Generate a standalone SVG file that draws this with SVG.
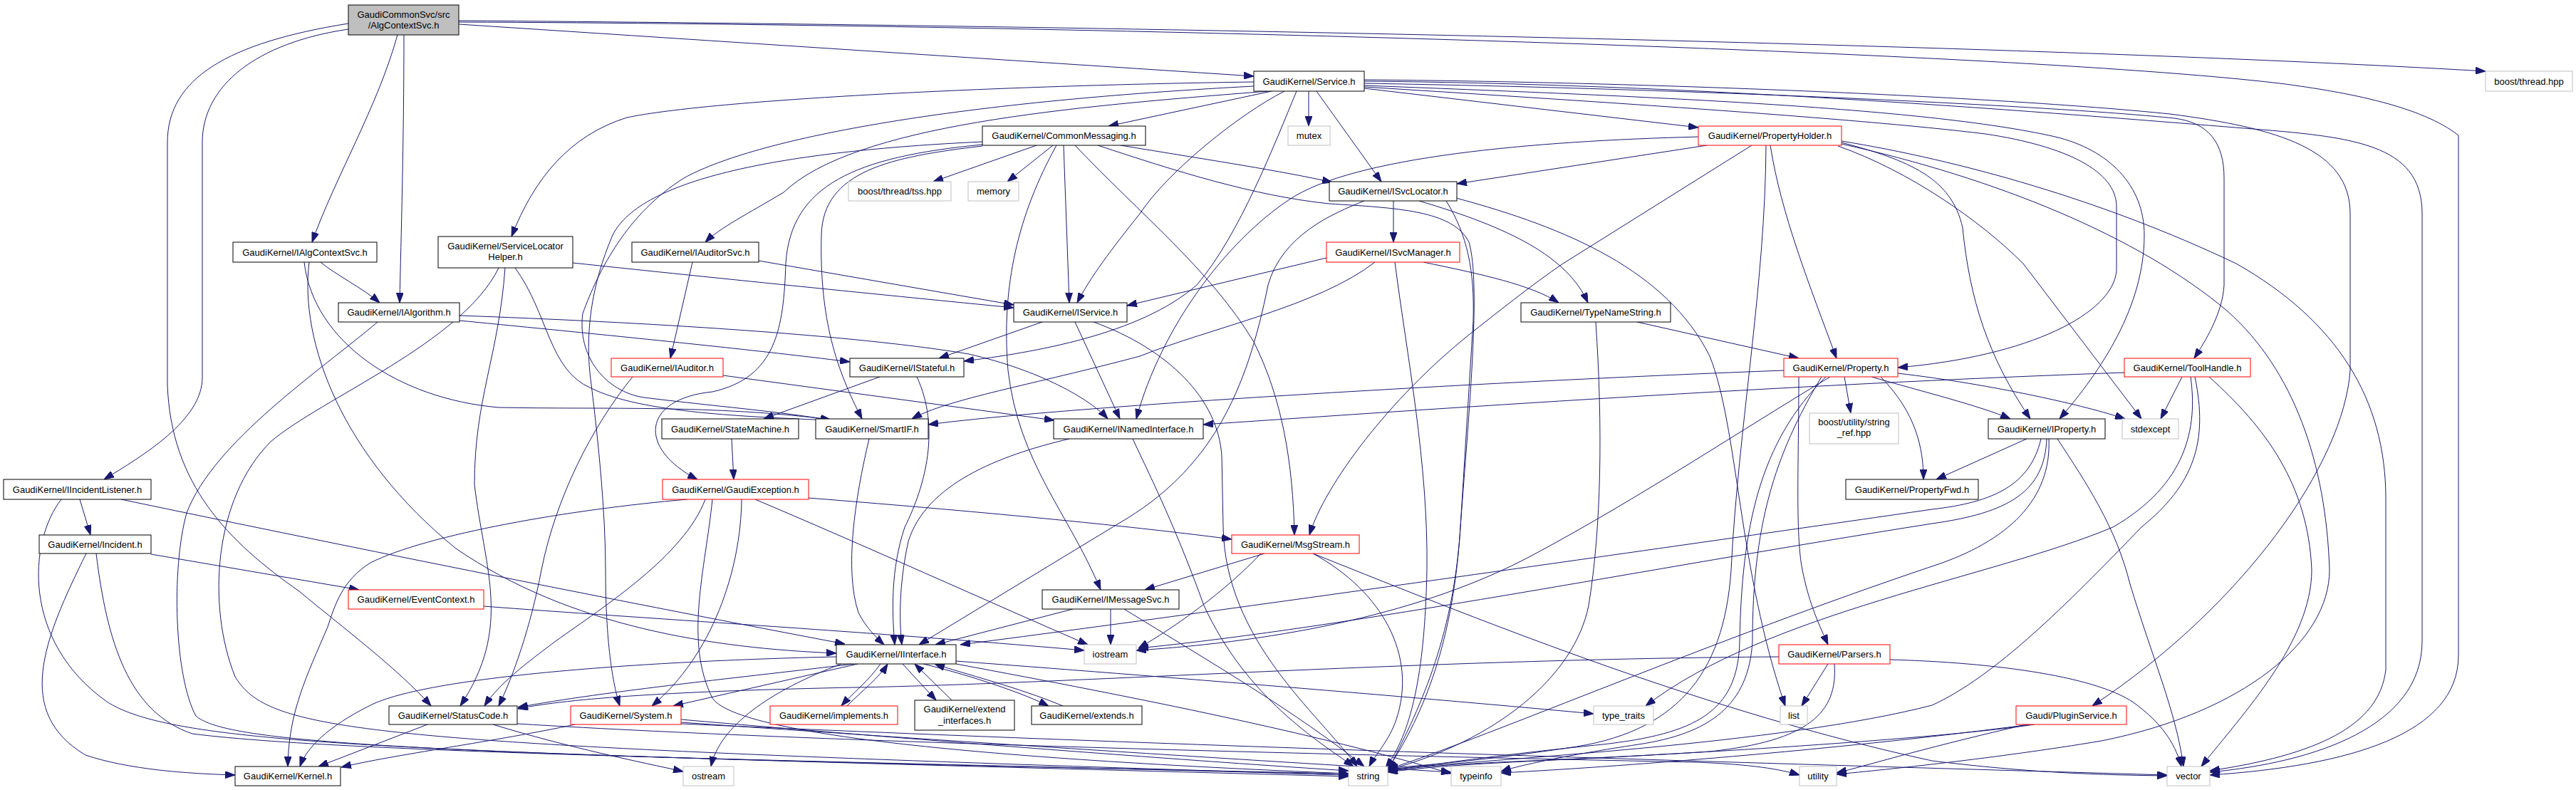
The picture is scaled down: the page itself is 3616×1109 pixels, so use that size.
<svg xmlns="http://www.w3.org/2000/svg" width="3616" height="1109" viewBox="0 0 3616 1109">
<style>
.node rect{fill:#ffffff;stroke:#000000;stroke-width:1}
.node.red rect{stroke:#ff0000}
.node.sys rect{stroke:#bfbfbf}
.node.root rect{fill:#bfbfbf}
.node text{font-family:"Liberation Sans",Arial,Helvetica,sans-serif;font-size:13px;fill:#000000;text-anchor:middle}
.edges path{fill:none;stroke:#191970;stroke-width:1;marker-end:url(#arr)}
</style>
<defs>
<marker id="arr" viewBox="0 0 14 10" refX="14" refY="5" markerWidth="14" markerHeight="10" markerUnits="userSpaceOnUse" orient="auto"><path d="M0,0 L14,5 L0,10 z" fill="#191970" stroke="#191970" stroke-width="1"/></marker>
</defs>
<rect x="0" y="0" width="3616" height="1109" fill="#ffffff"/>
<g class="edges">
<path d="M558,49 C530,150 470,250 438,340"/>
<path d="M567,49 C567,200 563,330 561,425"/>
<path d="M489,41 C360,60 284,120 284,200 L284,530 C284,590 200,640 146,673"/>
<path d="M489,33 C320,60 235,110 235,200 L235,540 C240,680 320,760 420,830 C480,880 560,940 605,991"/>
<path d="M644,34 L1760,107"/>
<path d="M644,29 C1500,35 2800,60 3489,100"/>
<path d="M644,31 C1500,34 2800,70 3200,117 C3300,130 3400,150 3451,190 L3451,920 C3451,1030 3300,1075 3102,1088"/>
<path d="M450,368 C470,385 510,405 533,425"/>
<path d="M427,368 C440,480 560,560 700,572 C850,575 1000,568 1166,589"/>
<path d="M434,368 C420,480 480,640 640,770 C800,880 1000,910 1174,917"/>
<path d="M645,443 C900,452 1200,470 1360,497 C1460,520 1530,560 1555,588"/>
<path d="M645,450 C850,470 1050,490 1193,508"/>
<path d="M530,452 C450,520 300,620 262,720 C240,800 245,950 275,1005 C320,1045 600,1060 1893,1086"/>
<path d="M112,701 L127,751"/>
<path d="M170,701 C500,770 900,850 1186,904"/>
<path d="M86,701 C40,760 30,900 150,985 C250,1050 600,1055 1893,1090"/>
<path d="M212,778 L504,828"/>
<path d="M121,777 C60,900 20,1000 120,1060 C180,1080 260,1086 330,1088"/>
<path d="M135,777 C150,900 180,1000 270,1030 C500,1060 1300,1070 1893,1088"/>
<path d="M679,851 C900,868 1200,885 1522,913"/>
<path d="M1760,115 C1400,120 1000,140 880,165 C800,190 750,250 718,332"/>
<path d="M1780,128 C1500,150 1200,175 1100,270 C1050,300 1010,320 990,340"/>
<path d="M1785,128 L1556,177"/>
<path d="M1837,128 L1837,177"/>
<path d="M1848,128 L1939,255"/>
<path d="M1915,124 L2384,179"/>
<path d="M1803,128 C1740,160 1640,240 1600,300 C1560,350 1530,390 1512,425"/>
<path d="M1820,128 C1790,200 1740,330 1680,400 C1600,470 1450,495 1353,507"/>
<path d="M1760,121 C1300,145 1050,200 960,250 C880,300 840,380 818,440 C810,500 850,550 904,558 C1000,570 1100,578 1166,590"/>
<path d="M1915,122 C2200,140 2600,165 2787,188 C2900,205 2971,240 2971,290 L2971,380 C2966,440 2850,500 2664,516"/>
<path d="M1915,120 C2300,135 2700,150 2885,192 C2960,210 3010,260 3010,330 C3010,430 2950,520 2891,588"/>
<path d="M1915,117 C2400,125 2900,150 3052,166 C3100,172 3122,200 3122,250 L3122,400 C3120,440 3095,480 3080,503"/>
<path d="M1915,112 C2300,115 2800,135 3046,160 C3200,180 3299,210 3299,300 L3299,520 C3290,650 3150,850 2937,991"/>
<path d="M1915,114 C2400,118 2900,160 3150,180 C3300,192 3400,200 3400,300 L3400,900 C3400,1020 3250,1070 3102,1084"/>
<path d="M804,369 C1000,390 1300,420 1423,432"/>
<path d="M723,376 C770,440 770,520 830,545 C900,580 1050,585 1166,590"/>
<path d="M709,376 C700,500 666,560 666,680 C680,800 720,880 646,991"/>
<path d="M700,376 C650,480 450,560 380,620 C300,700 290,850 330,950 C380,1030 500,1045 1893,1088"/>
<path d="M972,368 L941,503"/>
<path d="M1065,366 L1423,428"/>
<path d="M1015,527 L1480,590"/>
<path d="M888,529 C830,600 780,700 760,800 C745,880 720,950 700,991"/>
<path d="M1455,204 L1310,255"/>
<path d="M1478,204 L1414,255"/>
<path d="M1493,204 L1501,425"/>
<path d="M1573,204 C1700,225 1800,240 1870,256"/>
<path d="M1509,204 C1600,300 1700,380 1760,480 C1800,560 1815,650 1817,751"/>
<path d="M1483,204 C1430,300 1405,400 1415,520 C1430,650 1500,720 1545,828"/>
<path d="M1379,203 C1200,220 1110,260 1103,370 C1100,460 1090,530 1000,550 C900,560 895,630 979,673"/>
<path d="M1379,205 C1250,220 1155,240 1153,330 C1150,450 1175,520 1210,588"/>
<path d="M1379,199 C1100,212 900,250 860,330 C830,400 820,470 830,540 C840,620 850,720 850,800 C850,900 860,960 870,991"/>
<path d="M1541,204 C1650,240 1760,275 1866,286 C1960,292 2040,295 2062,340 C2080,400 2060,600 2050,740 C2040,900 2000,1000 1948,1080"/>
<path d="M1956,282 L1956,340"/>
<path d="M1992,282 C2120,320 2200,360 2229,425"/>
<path d="M2044,278 C2200,320 2340,380 2400,500 C2440,600 2440,800 2506,991"/>
<path d="M2030,282 C2060,330 2070,380 2068,450 L2050,740 C2040,900 1990,1000 1948,1082"/>
<path d="M1915,282 C1870,300 1800,330 1780,400 C1750,550 1700,660 1570,735 L1290,905"/>
<path d="M1862,362 L1582,429"/>
<path d="M1998,368 C2080,385 2150,400 2188,425"/>
<path d="M1930,368 C1850,430 1700,460 1600,500 C1450,540 1330,560 1280,588"/>
<path d="M1958,368 C1975,500 2005,650 2003,800 C2000,950 1980,1030 1945,1078"/>
<path d="M1463,452 L1318,503"/>
<path d="M1509,452 L1572,588"/>
<path d="M1535,452 C1640,490 1710,560 1715,640 L1717,740 C1720,900 1850,1000 1905,1076"/>
<path d="M1235,529 L1072,588"/>
<path d="M1287,529 C1320,600 1300,680 1270,740 C1250,800 1252,860 1256,905"/>
<path d="M1027,616 L1030,673"/>
<path d="M1220,616 C1200,700 1185,800 1205,860 C1215,880 1230,895 1241,905"/>
<path d="M1501,616 C1400,640 1300,680 1275,760 C1262,820 1262,870 1266,905"/>
<path d="M1590,616 C1620,680 1650,740 1690,850 C1750,980 1850,1040 1900,1076"/>
<path d="M1135,699 C1400,720 1600,740 1729,757"/>
<path d="M1060,701 C1200,760 1400,850 1527,905"/>
<path d="M990,701 C960,780 850,850 780,900 C740,930 700,960 680,991"/>
<path d="M1041,701 C1040,800 1000,920 915,991"/>
<path d="M965,701 C800,715 600,750 520,790 C480,815 470,850 460,880 C430,950 405,1000 404,1076"/>
<path d="M1000,701 C990,800 960,900 1000,980 C1040,1040 1500,1070 1893,1086"/>
<path d="M1506,855 L1313,905"/>
<path d="M1559,855 L1559,905"/>
<path d="M1578,855 C1700,930 1820,1000 1915,1076"/>
<path d="M1775,777 L1607,828"/>
<path d="M1843,777 C1940,830 1990,920 1960,1010 C1950,1040 1930,1060 1922,1076"/>
<path d="M1770,777 C1720,830 1650,880 1598,910"/>
<path d="M1843,777 C2100,880 2400,1000 2712,1068 C2850,1085 2950,1088 3042,1089"/>
<path d="M1198,932 C1050,950 850,970 727,993"/>
<path d="M1174,922 C900,928 600,950 520,990 C460,1020 430,1050 421,1076"/>
<path d="M1204,932 L945,991"/>
<path d="M1181,932 C1080,970 1010,1020 998,1076"/>
<path d="M1342,928 C1700,955 2000,980 2237,1002"/>
<path d="M1342,932 C1600,980 1850,1030 2037,1086"/>
<path d="M1236,932 C1220,955 1195,975 1181,991"/>
<path d="M1189,991 C1210,970 1235,950 1246,932"/>
<path d="M1267,932 L1314,983"/>
<path d="M1336,983 L1284,932"/>
<path d="M1296,932 C1370,950 1440,975 1472,991"/>
<path d="M1492,991 C1430,965 1350,945 1312,932"/>
<path d="M600,1017 L447,1076"/>
<path d="M692,1017 C800,1050 900,1070 959,1083"/>
<path d="M726,1016 C1200,1045 2000,1062 2380,1070 C2460,1073 2500,1080 2526,1088"/>
<path d="M807,1017 C700,1040 550,1060 479,1077"/>
<path d="M956,1010 C1300,1040 1700,1070 1893,1082"/>
<path d="M956,1014 C1400,1045 1800,1070 2037,1084"/>
<path d="M956,1016 C1700,1050 2600,1075 3042,1088"/>
<path d="M2589,529 L2598,580"/>
<path d="M2640,529 C2690,580 2700,630 2700,673"/>
<path d="M2627,529 C2700,550 2780,570 2822,588"/>
<path d="M2664,524 C2800,540 2930,570 2983,588"/>
<path d="M2525,529 C2525,650 2520,750 2530,800 C2540,850 2555,880 2566,905"/>
<path d="M2504,520 C2100,535 1500,570 1303,596"/>
<path d="M2569,529 C2450,600 2300,700 2150,780 C2000,860 1800,900 1595,913"/>
<path d="M2563,529 C2470,620 2445,740 2442,900 C2440,1000 2380,1030 2250,1045 C2100,1060 2000,1075 1948,1082"/>
<path d="M2557,529 C2490,640 2460,740 2460,900 C2455,990 2400,1030 2300,1045 C2200,1060 2130,1075 2107,1083"/>
<path d="M2566,932 L2529,991"/>
<path d="M2653,926 C2800,930 2950,950 3000,990 C3040,1020 3055,1050 3062,1076"/>
<path d="M2497,922 C2000,925 1500,960 1200,965 C950,970 800,980 727,995"/>
<path d="M2575,932 C2580,1000 2540,1040 2400,1055 C2200,1068 2050,1070 1948,1084"/>
<path d="M3063,529 L3033,588"/>
<path d="M2982,523 C2500,540 2000,575 1689,596"/>
<path d="M3075,529 C3085,600 3070,680 2966,740 C2800,810 2480,860 2310,991"/>
<path d="M3081,529 C3100,620 3080,680 3006,740 C2900,850 2800,950 2712,990 C2500,1045 2100,1065 1948,1080"/>
<path d="M3101,529 C3180,600 3240,680 3245,800 C3245,900 3150,1000 3090,1076"/>
<path d="M2396,204 L2045,258"/>
<path d="M2485,204 C2500,300 2540,400 2578,503"/>
<path d="M2585,200 C2680,225 2740,250 2755,320 C2765,420 2790,500 2850,588"/>
<path d="M2580,205 C2680,240 2780,310 2840,370 L3006,588"/>
<path d="M2585,198 C2750,225 2950,280 3139,370 C3280,450 3349,560 3349,700 L3349,940 C3340,1020 3250,1060 3102,1082"/>
<path d="M2585,202 C2800,250 3000,330 3127,437 C3220,520 3265,650 3270,800 C3270,900 3150,1000 2950,1040 C2800,1065 2650,1080 2578,1087"/>
<path d="M2479,204 C2478,400 2440,600 2430,800 C2420,950 2350,1030 2200,1050 C2100,1065 2000,1075 1948,1078"/>
<path d="M2459,204 L2194,370 C2150,400 2100,440 2062,470 C1950,560 1860,680 1838,751"/>
<path d="M2385,192 C2150,198 1900,220 1810,280 C1720,340 1630,460 1595,588"/>
<path d="M2298,452 L2525,503"/>
<path d="M2240,452 C2250,600 2248,740 2230,850 C2210,950 2100,1040 1948,1081"/>
<path d="M2845,616 L2718,673"/>
<path d="M2865,616 C2850,680 2800,705 2712,715 C2400,760 1700,860 1348,905"/>
<path d="M2873,616 C2870,690 2820,720 2712,735 C2300,800 1900,880 1598,910"/>
<path d="M2876,616 C2880,700 2820,760 2712,795 C2400,900 2100,1030 1948,1080"/>
<path d="M2888,616 C2930,680 2970,740 2990,820 C3020,920 3055,1000 3065,1076"/>
<path d="M2856,1017 C2700,1040 2300,1062 2150,1068 C2050,1072 1990,1076 1948,1083"/>
<path d="M2850,1017 C2600,1050 2300,1075 2107,1085"/>
<path d="M2845,1017 C2700,1050 2620,1075 2578,1085"/>
</g>
<g id="n_root" class="node root"><rect x="489" y="7" width="155" height="42"/><text x="566.5" y="25">GaudiCommonSvc/src</text><text x="566.5" y="40">/AlgContextSvc.h</text></g>
<g id="n_IAlgContextSvc" class="node"><rect x="327" y="340" width="202" height="28"/><text x="428" y="358.5">GaudiKernel/IAlgContextSvc.h</text></g>
<g id="n_IAlgorithm" class="node"><rect x="475" y="425" width="170" height="27"/><text x="560" y="443">GaudiKernel/IAlgorithm.h</text></g>
<g id="n_IIncidentListener" class="node"><rect x="5" y="673" width="207" height="28"/><text x="108.5" y="691.5">GaudiKernel/IIncidentListener.h</text></g>
<g id="n_Service" class="node"><rect x="1760" y="100" width="155" height="28"/><text x="1837.5" y="118.5">GaudiKernel/Service.h</text></g>
<g id="n_StatusCode" class="node"><rect x="546" y="991" width="180" height="26"/><text x="636" y="1008.5">GaudiKernel/StatusCode.h</text></g>
<g id="n_boost_thread" class="node sys"><rect x="3489" y="100" width="122" height="28"/><text x="3550" y="118.5">boost/thread.hpp</text></g>
<g id="n_vector" class="node sys"><rect x="3042" y="1076" width="60" height="27"/><text x="3072" y="1094">vector</text></g>
<g id="n_ServiceLocatorHelper" class="node"><rect x="615" y="332" width="189" height="44"/><text x="709.5" y="350">GaudiKernel/ServiceLocator</text><text x="709.5" y="365">Helper.h</text></g>
<g id="n_IAuditorSvc" class="node"><rect x="887" y="340" width="178" height="28"/><text x="976" y="358.5">GaudiKernel/IAuditorSvc.h</text></g>
<g id="n_CommonMessaging" class="node"><rect x="1379" y="177" width="229" height="27"/><text x="1493.5" y="195">GaudiKernel/CommonMessaging.h</text></g>
<g id="n_tss" class="node sys"><rect x="1191" y="255" width="144" height="27"/><text x="1263" y="273">boost/thread/tss.hpp</text></g>
<g id="n_memory" class="node sys"><rect x="1359" y="255" width="71" height="27"/><text x="1394.5" y="273">memory</text></g>
<g id="n_mutex" class="node sys"><rect x="1808" y="177" width="59" height="27"/><text x="1837.5" y="195">mutex</text></g>
<g id="n_PropertyHolder" class="node red"><rect x="2384" y="177" width="201" height="27"/><text x="2484.5" y="195">GaudiKernel/PropertyHolder.h</text></g>
<g id="n_ISvcLocator" class="node"><rect x="1866" y="255" width="179" height="27"/><text x="1955.5" y="273">GaudiKernel/ISvcLocator.h</text></g>
<g id="n_ISvcManager" class="node red"><rect x="1862" y="340" width="187" height="28"/><text x="1955.5" y="358.5">GaudiKernel/ISvcManager.h</text></g>
<g id="n_IService" class="node"><rect x="1423" y="425" width="159" height="27"/><text x="1502.5" y="443">GaudiKernel/IService.h</text></g>
<g id="n_IStateful" class="node"><rect x="1193" y="503" width="160" height="26"/><text x="1273" y="520.5">GaudiKernel/IStateful.h</text></g>
<g id="n_IAuditor" class="node red"><rect x="858" y="503" width="157" height="26"/><text x="936.5" y="520.5">GaudiKernel/IAuditor.h</text></g>
<g id="n_StateMachine" class="node"><rect x="929" y="588" width="192" height="28"/><text x="1025" y="606.5">GaudiKernel/StateMachine.h</text></g>
<g id="n_SmartIF" class="node"><rect x="1145" y="588" width="158" height="28"/><text x="1224" y="606.5">GaudiKernel/SmartIF.h</text></g>
<g id="n_INamedInterface" class="node"><rect x="1479" y="588" width="210" height="28"/><text x="1584" y="606.5">GaudiKernel/INamedInterface.h</text></g>
<g id="n_GaudiException" class="node red"><rect x="930" y="673" width="205" height="28"/><text x="1032.5" y="691.5">GaudiKernel/GaudiException.h</text></g>
<g id="n_TypeNameString" class="node"><rect x="2135" y="425" width="210" height="27"/><text x="2240" y="443">GaudiKernel/TypeNameString.h</text></g>
<g id="n_Property" class="node red"><rect x="2504" y="503" width="160" height="26"/><text x="2584" y="520.5">GaudiKernel/Property.h</text></g>
<g id="n_string_ref" class="node sys"><rect x="2540" y="580" width="125" height="43"/><text x="2602.5" y="597">boost/utility/string</text><text x="2602.5" y="612">_ref.hpp</text></g>
<g id="n_PropertyFwd" class="node"><rect x="2591" y="673" width="186" height="28"/><text x="2684" y="691.5">GaudiKernel/PropertyFwd.h</text></g>
<g id="n_ToolHandle" class="node red"><rect x="2982" y="503" width="177" height="26"/><text x="3070.5" y="520.5">GaudiKernel/ToolHandle.h</text></g>
<g id="n_IProperty" class="node"><rect x="2791" y="588" width="164" height="28"/><text x="2873" y="606.5">GaudiKernel/IProperty.h</text></g>
<g id="n_stdexcept" class="node sys"><rect x="2979" y="588" width="79" height="28"/><text x="3018.5" y="606.5">stdexcept</text></g>
<g id="n_Incident" class="node"><rect x="55" y="751" width="157" height="26"/><text x="133.5" y="768.5">GaudiKernel/Incident.h</text></g>
<g id="n_EventContext" class="node red"><rect x="489" y="828" width="190" height="27"/><text x="584" y="846">GaudiKernel/EventContext.h</text></g>
<g id="n_System" class="node red"><rect x="801" y="991" width="155" height="26"/><text x="878.5" y="1008.5">GaudiKernel/System.h</text></g>
<g id="n_Kernel" class="node"><rect x="330" y="1076" width="148" height="27"/><text x="404" y="1094">GaudiKernel/Kernel.h</text></g>
<g id="n_MsgStream" class="node red"><rect x="1729" y="751" width="179" height="26"/><text x="1818.5" y="768.5">GaudiKernel/MsgStream.h</text></g>
<g id="n_IMessageSvc" class="node"><rect x="1463" y="828" width="192" height="27"/><text x="1559" y="846">GaudiKernel/IMessageSvc.h</text></g>
<g id="n_iostream" class="node sys"><rect x="1522" y="905" width="73" height="27"/><text x="1558.5" y="923">iostream</text></g>
<g id="n_IInterface" class="node"><rect x="1174" y="905" width="168" height="27"/><text x="1258" y="923">GaudiKernel/IInterface.h</text></g>
<g id="n_implements" class="node red"><rect x="1081" y="991" width="179" height="26"/><text x="1170.5" y="1008.5">GaudiKernel/implements.h</text></g>
<g id="n_extend_interfaces" class="node"><rect x="1284" y="983" width="140" height="42"/><text x="1354" y="1000">GaudiKernel/extend</text><text x="1354" y="1015.5">_interfaces.h</text></g>
<g id="n_extends" class="node"><rect x="1448" y="991" width="155" height="26"/><text x="1525.5" y="1008.5">GaudiKernel/extends.h</text></g>
<g id="n_ostream" class="node sys"><rect x="959" y="1076" width="71" height="27"/><text x="994.5" y="1094">ostream</text></g>
<g id="n_Parsers" class="node red"><rect x="2497" y="905" width="156" height="27"/><text x="2575" y="923">GaudiKernel/Parsers.h</text></g>
<g id="n_type_traits" class="node sys"><rect x="2237" y="991" width="84" height="26"/><text x="2279" y="1008.5">type_traits</text></g>
<g id="n_list" class="node sys"><rect x="2499" y="991" width="38" height="26"/><text x="2518" y="1008.5">list</text></g>
<g id="n_string" class="node sys"><rect x="1893" y="1076" width="55" height="27"/><text x="1920.5" y="1094">string</text></g>
<g id="n_typeinfo" class="node sys"><rect x="2037" y="1076" width="70" height="27"/><text x="2072" y="1094">typeinfo</text></g>
<g id="n_utility" class="node sys"><rect x="2526" y="1076" width="52" height="27"/><text x="2552" y="1094">utility</text></g>
<g id="n_PluginService" class="node red"><rect x="2830" y="991" width="155" height="26"/><text x="2907.5" y="1008.5">Gaudi/PluginService.h</text></g>
</svg>
